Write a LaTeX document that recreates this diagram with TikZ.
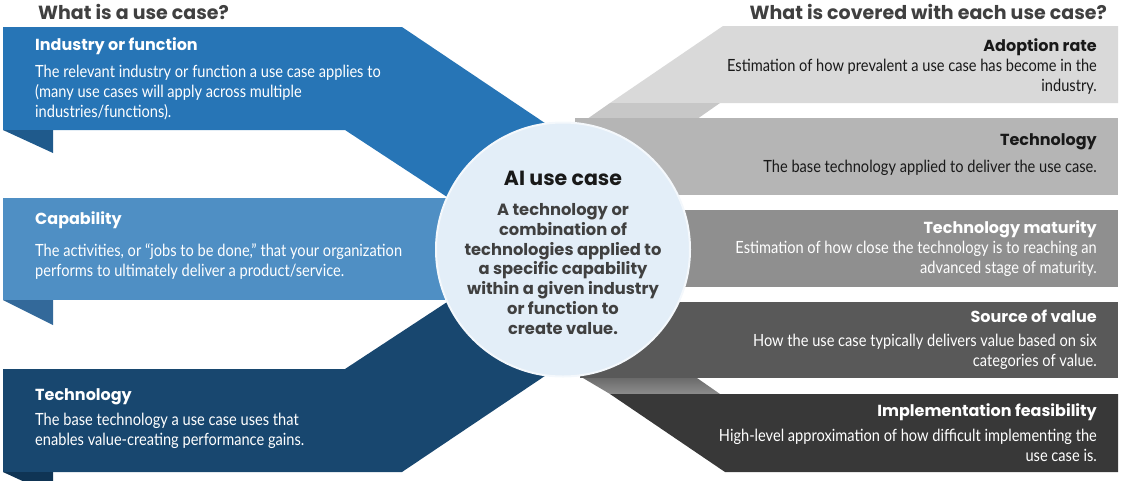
\documentclass[tikz,border=0pt]{standalone}
\usepackage{fontspec}
\setmainfont{Poppins}
\newfontfamily\condfont[FakeStretch=0.87]{Lato}
\definecolor{indblue}{HTML}{2775B6}
\definecolor{indfold}{HTML}{1F5A8C}
\definecolor{capblue}{HTML}{4F8FC4}
\definecolor{capfold}{HTML}{33699A}
\definecolor{techblue}{HTML}{18476F}
\definecolor{techfold}{HTML}{0F3454}
\definecolor{coreblue}{HTML}{E3EEF8}
\definecolor{titlegray}{HTML}{404040}

\begin{document}
\begin{tikzpicture}[
    x=1pt,
    y=-1pt,
    title/.style={
      inner sep=0,
      font=\bfseries\fontsize{19}{21}\selectfont,
      color=titlegray,
    },
    lefthead/.style={
      anchor=west,
      inner sep=0,
      font=\bfseries\fontsize{16}{18}\selectfont,
      color=white,
    },
    leftbody/.style={
      anchor=west,
      inner sep=0,
      align=left,
      font=\condfont\fontsize{16.8}{20}\selectfont,
      color=white,
    },
    righthead/.style={
      lefthead,
      anchor=east,
    },
    rightbody/.style={
      leftbody,
      anchor=east,
      align=right,
    },
  ]
    \newcommand\leftcase[5]{%
      \node[lefthead] (#1head) at (35, #2) {#3};
      \node[leftbody] (#1body) at (35, #4) {#5};
    }
    \newcommand\rightcase[6]{%
      \node[righthead,#6] (#1head) at (1097, #2) {#3};
      \node[rightbody,#6] (#1body) at (1097, #4) {#5};
    }

    \useasboundingbox (0, 0) rectangle (1122, 480);

    % left bands
    \fill[indblue] (3, 27) -- (402, 27) -- (585, 150) -- (470, 212)
      -- (345, 130) -- (3, 130) -- cycle;
    \fill[indfold] (3, 130) -- (53, 130) -- (53, 153) -- cycle;
    \fill[techblue] (3, 472) -- (402, 472) -- (585, 349) -- (470, 287)
      -- (345, 369) -- (3, 369) -- cycle;
    \fill[techfold] (3, 472) -- (53, 472) -- (53, 495) -- cycle;
    \fill[capblue] (3, 198) rectangle (520, 300);
    \fill[capfold] (3, 300) -- (53, 300) -- (53, 325) -- cycle;

    % right bands
    \fill[black!15] (723, 26) -- (1118, 26) -- (1118, 103) -- (610, 103) -- cycle;
    \fill[black!22] (610, 103) -- (720, 103) -- (690, 124) -- (580, 124) -- cycle;
    \fill[black!29] (575, 118) rectangle (1118, 195);
    \fill[black!44] (600, 210) rectangle (1118, 287);
    \fill[black!65] (580, 302) rectangle (1118, 378);
    \shade[top color=black!58, bottom color=black!45]
      (583, 378) -- (697, 378) -- (720, 394) -- (610, 394) -- cycle;
    \fill[black!78] (610, 394) -- (1118, 394) -- (1118, 472) -- (725, 472) -- cycle;

    \node[circle, fill=coreblue, draw=white!60!coreblue, line width=2pt,
      minimum size=254, inner sep=0] (core) at (563, 249.5) {};
    \node[inner sep=0, font=\bfseries\fontsize{20.5}{22}\selectfont, color=black!90]
      (coretitle) at (563, 178) {AI use case};
    \node[inner sep=0, align=center, font=\bfseries\fontsize{16.3}{19.7}\selectfont,
      color=titlegray] (coretext) at (563, 269)
    {A technology or\\
      combination of\\
      technologies applied to\\
      a specific capability\\
      within a given industry\\
      or function to\\
      create value.};

    \node[title, anchor=west] (lefttitle) at (38, 12) {What is a use case?};
    \node[title, anchor=east] (righttitle) at (1107, 12) {What is covered with each use case?};

    \leftcase{ind}{46}{Industry or function}{93}
      {The relevant industry or function a use case applies to\\
       (many use cases will apply across multiple\\
       industries/functions).}
    \leftcase{cap}{220}{Capability}{262}
      {The activities, or “jobs to be done,” that your organization\\
       performs to ultimately deliver a product/service.}
    \leftcase{tech}{397}{Technology}{431}
      {The base technology a use case uses that\\
       enables value-creating performance gains.}

    \rightcase{adopt}{47}{Adoption rate}{77}
      {Estimation of how prevalent a use case has become in the\\
       industry.}{text=black!90}
    \rightcase{basetech}{142}{Technology}{168}
      {The base technology applied to deliver the use case.}{text=black!90}
    \rightcase{mature}{229}{Technology maturity}{259}
      {Estimation of how close the technology is to reaching an\\
       advanced stage of maturity.}{}
    \rightcase{source}{316}{Source of value}{352}
      {How the use case typically delivers value based on six\\
       categories of value.}{}
    \rightcase{feasible}{412}{Implementation feasibility}{445}
      {High-level approximation of how difficult implementing the\\
       use case is.}{}
  \end{tikzpicture}
\end{document}
